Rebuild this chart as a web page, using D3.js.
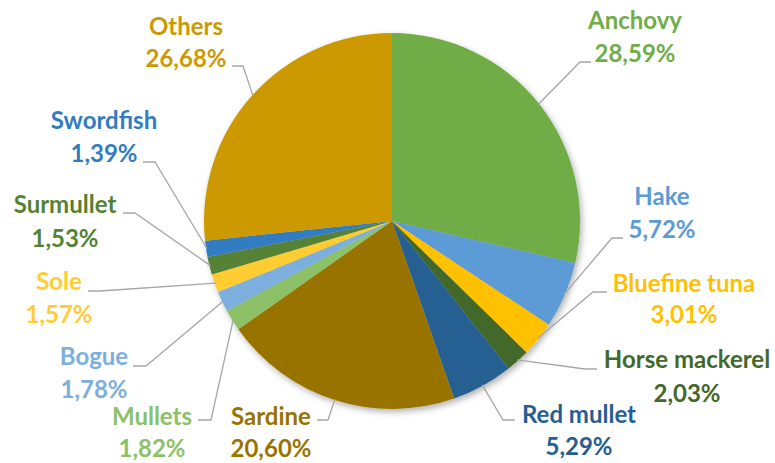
<!DOCTYPE html>
<html>
<head>
<meta charset="utf-8">
<script src="https://cdn.jsdelivr.net/npm/d3@7"></script>
<style>
  html, body { margin: 0; padding: 0; background: #fff; }
  svg { display: block; }
  text { font-family: Lato, "Open Sans", sans-serif; font-weight: bold; }
</style>
</head>
<body>
<svg id="chart" width="775" height="463"></svg>
<script>
// Data
const categories = ["Anchovy", "Hake", "Bluefine tuna", "Horse mackerel", "Red mullet", "Sardine",
                    "Mullets", "Bogue", "Sole", "Surmullet", "Swordfish", "Others"];
const values = [28.59, 5.72, 3.01, 2.03, 5.29, 20.60, 1.82, 1.78, 1.57, 1.53, 1.39, 26.68];
const colors = ["#70AD47", "#5B9BD5", "#FFC000", "#43682B", "#255E91", "#997300",
                "#8CC168", "#7CAFDD", "#FFCD33", "#548235", "#327DC2", "#CC9900"];

// Label layout (centre x, first baseline, second baseline) and leader start points
const labelPos = [
  [635, 29, 62], [662, 205, 238], [684, 292, 323], [687, 368, 402],
  [579, 423, 455], [271, 425, 457], [152, 425, 457], [94, 365, 398],
  [59, 290, 323], [65, 213, 247], [104, 129, 162], [186, 35, 67]
];
const leaderStart = [
  [[591, 62], [580, 62]], [[623, 238], [612, 238]], [[607, 292], [593, 292]],
  [[597, 369], [585, 369]], [[515, 420], [503, 420]], [[317, 420], [328, 420]],
  [[198, 420], [211, 420]], [[133, 366], [146, 366]], [[88, 291], [100, 291]],
  [[123, 213], [135, 213]], [[143, 162], [155, 162]], [[232, 66], [243, 66]]
];

const svg = d3.select("#chart");
const cx = 392, cy = 221, r = 188;

const defs = svg.append("defs");
const f = defs.append("filter").attr("id", "shadow")
  .attr("x", "-10%").attr("y", "-10%").attr("width", "130%").attr("height", "130%");
f.append("feDropShadow").attr("dx", 2).attr("dy", 3).attr("stdDeviation", 3)
  .attr("flood-color", "#000").attr("flood-opacity", 0.3);

const data = categories.map((c, i) => ({ name: c, value: values[i], color: colors[i], i }));
const pie = d3.pie().value(d => d.value).sort(null);
const arcs = pie(data);
const arc = d3.arc().innerRadius(0).outerRadius(r);

const g = svg.append("g").attr("transform", `translate(${cx},${cy})`);
g.append("g").attr("filter", "url(#shadow)")
  .selectAll("path").data(arcs).join("path")
  .attr("d", arc).attr("fill", d => d.data.color);

// Leader lines
const line = d3.line();
svg.append("g").selectAll("path").data(arcs).join("path")
  .attr("d", d => {
    const a = (d.startAngle + d.endAngle) / 2;
    const end = [cx + (r - 1) * Math.sin(a), cy - (r - 1) * Math.cos(a)];
    return line([...leaderStart[d.index], end]);
  })
  .attr("fill", "none").attr("stroke", "#A6A6A6").attr("stroke-width", 1.3);

// Labels
const fmt = v => d3.format(".2f")(v).replace(".", ",") + "%";
const lab = svg.append("g").selectAll("g").data(arcs).join("g");
lab.append("text")
  .attr("x", d => labelPos[d.index][0]).attr("y", d => labelPos[d.index][1])
  .attr("text-anchor", "middle").attr("font-size", 24)
  .attr("fill", d => d.data.color).text(d => d.data.name);
lab.append("text")
  .attr("x", d => labelPos[d.index][0]).attr("y", d => labelPos[d.index][2])
  .attr("text-anchor", "middle").attr("font-size", 24)
  .attr("fill", d => d.data.color).text(d => fmt(d.data.value));
</script>
</body>
</html>
